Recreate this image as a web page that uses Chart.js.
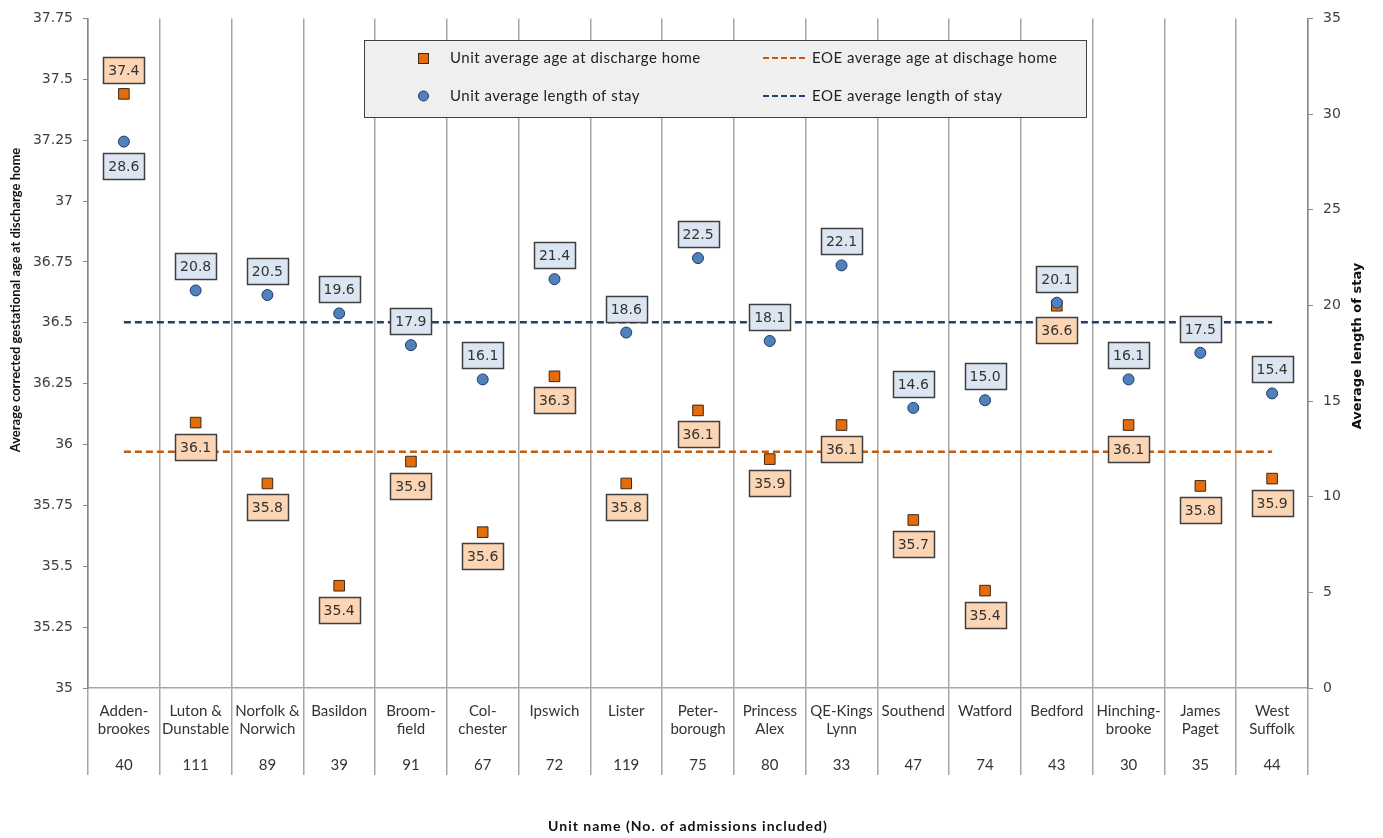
<!DOCTYPE html>
<html>
<head>
<meta charset="utf-8">
<script src="https://cdn.jsdelivr.net/npm/chart.js@4.4.1/dist/chart.umd.min.js"></script>
<style>
    body { margin: 0; background: #fff; }
    #contenedor { width: 1383px; height: 838px; position: relative; }
</style>
</head>
<body>
<div id="contenedor"><canvas id="grafico"></canvas></div>
<script>
const unidades = [
    ["Adden-", "brookes"], ["Luton &", "Dunstable"], ["Norfolk &", "Norwich"], ["Basildon", ""],
    ["Broom-", "field"], ["Col-", "chester"], ["Ipswich", ""], ["Lister", ""],
    ["Peter-", "borough"], ["Princess", "Alex"], ["QE-Kings", "Lynn"], ["Southend", ""],
    ["Watford", ""], ["Bedford", ""], ["Hinching-", "brooke"], ["James", "Paget"], ["West", "Suffolk"],
];
const admisiones = [40, 111, 89, 39, 91, 67, 72, 119, 75, 80, 33, 47, 74, 43, 30, 35, 44];
const edadAlta = [37.44, 36.09, 35.84, 35.42, 35.93, 35.64, 36.28, 35.84, 36.14, 35.94, 36.08, 35.69, 35.4, 36.57, 36.08, 35.83, 35.86];
const estancia = [28.56, 20.78, 20.54, 19.58, 17.92, 16.13, 21.37, 18.58, 22.47, 18.14, 22.09, 14.64, 15.04, 20.14, 16.13, 17.52, 15.4];
const edadEOE = 35.97;
const estanciaEOE = 19.12;
const ticksEdad = [35, 35.25, 35.5, 35.75, 36, 36.25, 36.5, 36.75, 37, 37.25, 37.5, 37.75];
const ticksEstancia = [0, 5, 10, 15, 20, 25, 30, 35];
const nombresSeries = [
    "Unit average age at discharge home",
    "Unit average length of stay",
    "EOE average age at dischage home",
    "EOE average length of stay",
];

const NARANJA = "#e46c0a";
const AZUL = "#4f81bd";
const LINEA_NARANJA = "#c55a11";
const LINEA_AZUL = "#243f6b";

// Cajas con el valor de cada punto
const etiquetas = {
    id: "etiquetas",
    afterDatasetsDraw(chart) {
        const ctx = chart.ctx;
        ctx.save();
        ctx.font = '14px "DejaVu Sans"';
        ctx.textAlign = "center";
        ctx.textBaseline = "middle";
        const conf = [
            { ds: 0, fondo: "#dce6f2", dir: -1 },
            { ds: 1, fondo: "#fcd5b5", dir: 1 },
        ];
        conf.forEach((c) => {
            const meta = chart.getDatasetMeta(c.ds);
            const valores = chart.data.datasets[c.ds].data;
            meta.data.forEach((pt, i) => {
                const dir = i === 0 ? -c.dir : c.dir; // Addenbrookes va al reves
                const w = 41, h = 26;
                const cy = pt.y + dir * (11 + h / 2);
                const x0 = Math.round(pt.x - w / 2) + 0.5;
                const y0 = Math.round(cy - h / 2) + 0.5;
                ctx.fillStyle = c.fondo;
                ctx.fillRect(x0, y0, w, h);
                ctx.strokeStyle = "#3f3f3f";
                ctx.lineWidth = 1.5;
                ctx.strokeRect(x0, y0, w, h);
                ctx.fillStyle = "#333";
                ctx.fillText(valores[i].toFixed(1), pt.x, y0 + h / 2 + 1);
            });
        });
        ctx.restore();
    },
};

// Leyenda dentro del area y titulos de ejes
const leyendaYTitulos = {
    id: "leyendaYTitulos",
    afterDraw(chart) {
        const ctx = chart.ctx;
        ctx.save();
        ctx.fillStyle = "#efefef";
        ctx.fillRect(364.5, 40.5, 722, 77);
        ctx.strokeStyle = "#404040";
        ctx.lineWidth = 1;
        ctx.strokeRect(364.5, 40.5, 722, 77);

        // cuadro naranja
        ctx.fillStyle = NARANJA;
        ctx.fillRect(418.5, 53.5, 10, 10);
        ctx.strokeStyle = "#3a2a1a";
        ctx.strokeRect(418.5, 53.5, 10, 10);
        // circulo azul
        ctx.beginPath();
        ctx.arc(423.5, 96, 5, 0, Math.PI * 2);
        ctx.fillStyle = AZUL;
        ctx.fill();
        ctx.strokeStyle = "#1f3a64";
        ctx.stroke();

        ctx.lineWidth = 2;
        ctx.setLineDash([6, 3]);
        ctx.strokeStyle = LINEA_NARANJA;
        ctx.beginPath(); ctx.moveTo(763, 58); ctx.lineTo(807, 58); ctx.stroke();
        ctx.strokeStyle = LINEA_AZUL;
        ctx.beginPath(); ctx.moveTo(763, 96); ctx.lineTo(807, 96); ctx.stroke();
        ctx.setLineDash([]);

        ctx.font = '15px Lato';
        ctx.letterSpacing = "0.5px";
        ctx.textBaseline = "middle";
        ctx.textAlign = "left";
        ctx.fillStyle = "#222";
        ctx.fillText(nombresSeries[0], 450, 58);
        ctx.fillText(nombresSeries[1], 450, 96);
        ctx.fillText(nombresSeries[2], 812, 58);
        ctx.fillText(nombresSeries[3], 812, 96);
        ctx.letterSpacing = "0px";

        // titulos
        ctx.fillStyle = "#111";
        ctx.textAlign = "center";
        ctx.font = 'bold 13px Lato';
        ctx.save();
        ctx.translate(16, 300);
        ctx.rotate(-Math.PI / 2);
        ctx.fillText("Average corrected gestational age at discharge home", 0, 0);
        ctx.restore();
        ctx.save();
        ctx.font = 'bold 13px "DejaVu Sans"';
        ctx.translate(1358, 346);
        ctx.rotate(-Math.PI / 2);
        ctx.fillText("Average length of stay", 0, 0);
        ctx.restore();
        ctx.font = 'bold 14px Lato';
        ctx.letterSpacing = "1px";
        ctx.fillText("Unit name (No. of admissions included)", 688, 826);
        ctx.restore();
    },
};

document.addEventListener("DOMContentLoaded", function () {
    const ctx = document.getElementById("grafico").getContext("2d");
    const etiquetasX = unidades.map((u, i) => [u[0], u[1], "", String(admisiones[i])]);
    const ultimo = unidades.length - 1;

    new Chart(ctx, {
        type: "line",
        data: {
            labels: etiquetasX,
            datasets: [
                {
                    label: nombresSeries[1],
                    data: estancia,
                    yAxisID: "y1",
                    showLine: false,
                    pointStyle: "circle",
                    pointRadius: 5.5,
                    pointBackgroundColor: AZUL,
                    pointBorderColor: "#1f3a64",
                    pointBorderWidth: 1,
                    order: 0,
                },
                {
                    label: nombresSeries[0],
                    data: edadAlta,
                    yAxisID: "y",
                    showLine: false,
                    pointStyle: "rect",
                    pointRadius: 7.5,
                    pointBackgroundColor: NARANJA,
                    pointBorderColor: "#3a2a1a",
                    pointBorderWidth: 1,
                    order: 1,
                },
                {
                    label: nombresSeries[2],
                    data: [{ x: 0, y: edadEOE }, { x: ultimo, y: edadEOE }],
                    xAxisID: "xl",
                    yAxisID: "y",
                    borderColor: LINEA_NARANJA,
                    borderWidth: 2.5,
                    borderDash: [7, 4],
                    pointRadius: 0,
                    order: 2,
                },
                {
                    label: nombresSeries[3],
                    data: [{ x: 0, y: estanciaEOE }, { x: ultimo, y: estanciaEOE }],
                    xAxisID: "xl",
                    yAxisID: "y1",
                    borderColor: LINEA_AZUL,
                    borderWidth: 2.5,
                    borderDash: [7, 4],
                    pointRadius: 0,
                    order: 3,
                },
            ],
        },
        options: {
            responsive: true,
            maintainAspectRatio: false,
            animation: false,
            layout: { padding: { top: 14, left: 0, right: 0, bottom: 0 } },
            plugins: {
                legend: { display: false },
                tooltip: { enabled: false },
            },
            scales: {
                x: {
                    type: "category",
                    offset: true,
                    grid: { offset: true, color: "#a6a6a6", lineWidth: 1.5, tickLength: 87 },
                    border: { color: "#a6a6a6", width: 1.5 },
                    ticks: {
                        autoSkip: false,
                        maxRotation: 0,
                        padding: -73,
                        color: "#333",
                        font: { family: "Lato", size: 15, lineHeight: 1.2 },
                    },
                    afterFit: (s) => { s.height = 150; },
                },
                xl: {
                    type: "linear",
                    display: false,
                    min: -0.5,
                    max: ultimo + 0.5,
                },
                y: {
                    position: "left",
                    min: 35,
                    max: 37.75,
                    afterBuildTicks: (s) => { s.ticks = ticksEdad.map((v) => ({ value: v })); },
                    grid: { drawOnChartArea: false, tickLength: 5, color: "#888" },
                    border: { color: "#888", width: 1.5 },
                    ticks: {
                        padding: 10,
                        color: "#404040",
                        font: { family: "DejaVu Sans", size: 14 },
                        callback: (v) => String(v),
                    },
                    afterFit: (s) => { s.width = 88; },
                },
                y1: {
                    position: "right",
                    min: 0,
                    max: 35,
                    afterBuildTicks: (s) => { s.ticks = ticksEstancia.map((v) => ({ value: v })); },
                    grid: { drawOnChartArea: false, tickLength: 5, color: "#888" },
                    border: { color: "#888", width: 1.5 },
                    ticks: {
                        padding: 10,
                        color: "#404040",
                        font: { family: "DejaVu Sans", size: 14 },
                        callback: (v) => String(v),
                    },
                    afterFit: (s) => { s.width = 75; },
                },
            },
        },
        plugins: [etiquetas, leyendaYTitulos],
    });
});
</script>
</body>
</html>
